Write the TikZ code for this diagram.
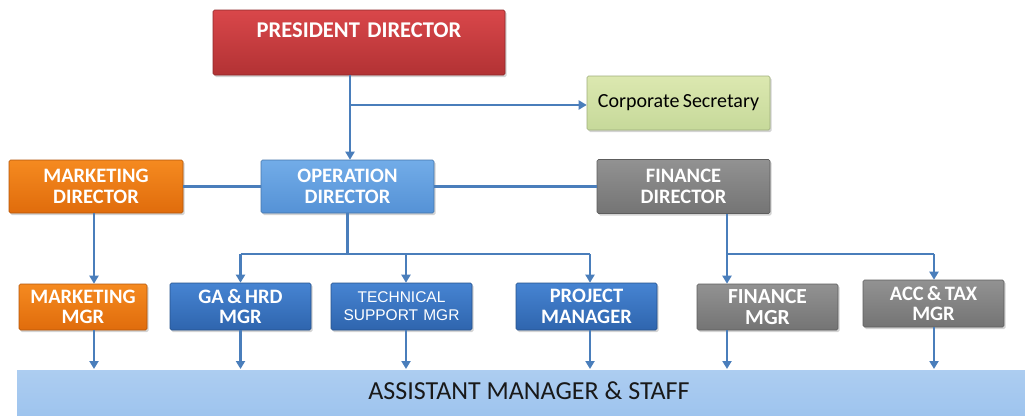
\documentclass[tikz,border=0pt]{standalone}
\usepackage{fontspec}
\setmainfont{Carlito}
\newfontfamily\tahomalike{Liberation Sans}
\usetikzlibrary{arrows.meta,shadows}
\definecolor{linec}{HTML}{4A7EBB}
\definecolor{redT}{HTML}{D9474A}\definecolor{redB}{HTML}{B23234}
\definecolor{grnT}{HTML}{DCE8B0}\definecolor{grnB}{HTML}{C6D99A}
\definecolor{orT}{HTML}{F58A20}\definecolor{orB}{HTML}{E06C0C}
\definecolor{lbT}{HTML}{72ACE8}\definecolor{lbB}{HTML}{5592D6}
\definecolor{dbT}{HTML}{4684D2}\definecolor{dbB}{HTML}{2F65AE}
\definecolor{grT}{HTML}{929292}\definecolor{grB}{HTML}{747474}
\definecolor{barc}{HTML}{9EC4EE}
\tikzset{
  orgbox/.style={rectangle, rounded corners=1.5pt, draw=#1B!80!black, line width=0.6pt,
    top color=#1T, bottom color=#1B, text=white, align=center,
    font=\bfseries\fontsize{20.5}{20.5}\selectfont,
    drop shadow={opacity=0.35, shadow xshift=1.5pt, shadow yshift=-2pt}},
  conn/.style={draw=linec, line width=2.6pt},
  arr/.style={conn, -{Triangle[length=8pt,width=9pt]}},
}
\begin{document}
\begin{tikzpicture}[x=1pt,y=-1pt]
\useasboundingbox (0,0) rectangle (1025,415);
% boxes
\node[orgbox=red, minimum width=292pt, minimum height=65pt, font=\bfseries\fontsize{22.5}{24}\selectfont, anchor=center] (pres) at (359,42.5) {PRESIDENT\,\,DIRECTOR\\[-6pt]\strut};
\node[orgbox=grn, text=black, font=\fontsize{20}{20}\selectfont, minimum width=183pt, minimum height=54pt] (cs) at (678.5,103) {Corporate\,Secretary};
\node[orgbox=or, minimum width=174pt, minimum height=53pt] (md) at (96,186.5) {MARKETING\\DIRECTOR};
\node[orgbox=lb, minimum width=173pt, minimum height=53pt] (od) at (347.5,186.5) {OPERATION\\DIRECTOR};
\node[orgbox=gr, minimum width=173pt, minimum height=54pt] (fd) at (683.5,186.5) {FINANCE\\DIRECTOR};
\node[orgbox=or, minimum width=128pt, minimum height=46pt] (mm) at (83,307) {MARKETING\\MGR};
\node[orgbox=db, minimum width=141pt, minimum height=47pt] (ga) at (240.5,306.5) {GA\,\&\,HRD\\MGR};
\node[orgbox=db, minimum width=141pt, minimum height=47pt, font=\tahomalike\fontsize{15.5}{18}\selectfont] (ts) at (401.5,306.5) {TECHNICAL\\SUPPORT\,\,MGR};
\node[orgbox=db, minimum width=141pt, minimum height=47pt] (pm) at (586.5,306.5) {PROJECT\\MANAGER};
\node[orgbox=gr, minimum width=141pt, minimum height=46pt, font=\bfseries\fontsize{21.5}{21}\selectfont] (fm) at (767.5,307) {FINANCE\\MGR};
\node[orgbox=gr, minimum width=141pt, minimum height=47pt] (at) at (933.5,303.5) {ACC\,\&\,TAX\\MGR};
\node[rectangle, fill=barc, top color=barc!85!white, bottom color=barc, minimum width=1010pt, minimum height=46pt, anchor=north west, inner sep=0pt] (bar) at (17,370) {};
\node[text=black!90, font=\fontsize{26}{28}\selectfont] (bart) at (529,391) {ASSISTANT MANAGER \& STAFF};
% coordinates
\coordinate (px) at (350,0);
\coordinate (jcs) at (0,105);
\coordinate (j1) at (0,254);
\coordinate (mx) at (94,0);
\coordinate (tx) at (406,0);
\coordinate (prx) at (590,0);
\coordinate (fx) at (727,0);
\coordinate (ax) at (934,0);
\coordinate (bt) at (0,369);
% connectors
\draw[arr] (pres.south -| px) -- (od.north -| px);
\draw[arr] (px |- jcs) -- (cs.west |- jcs);
\draw[conn] (md.east) -- (od.west);
\draw[conn] (od.east) -- (fd.west |- od.east);
\draw[arr] (md.south -| mx) -- (mm.north -| mx);
\draw[conn] (od.south) -- (od.south |- j1);
\draw[conn] (ga.north |- j1) -- (prx |- j1);
\draw[arr] (ga.north |- j1) -- (ga.north);
\draw[arr] (tx |- j1) -- (ts.north -| tx);
\draw[arr] (prx |- j1) -- (pm.north -| prx);
\draw[arr] (fd.south -| fx) -- (fm.north -| fx);
\draw[conn] (fx |- j1) -- (ax |- j1);
\draw[arr] (ax |- j1) -- (at.north -| ax);
% down to staff bar
\draw[arr] (mm.south -| mx) -- (mx |- bt);
\draw[arr] (ga.south) -- (ga.south |- bt);
\draw[arr] (ts.south -| tx) -- (tx |- bt);
\draw[arr] (pm.south -| prx) -- (prx |- bt);
\draw[arr] (fm.south -| fx) -- (fx |- bt);
\draw[arr] (at.south -| ax) -- (ax |- bt);
\end{tikzpicture}
\end{document}
